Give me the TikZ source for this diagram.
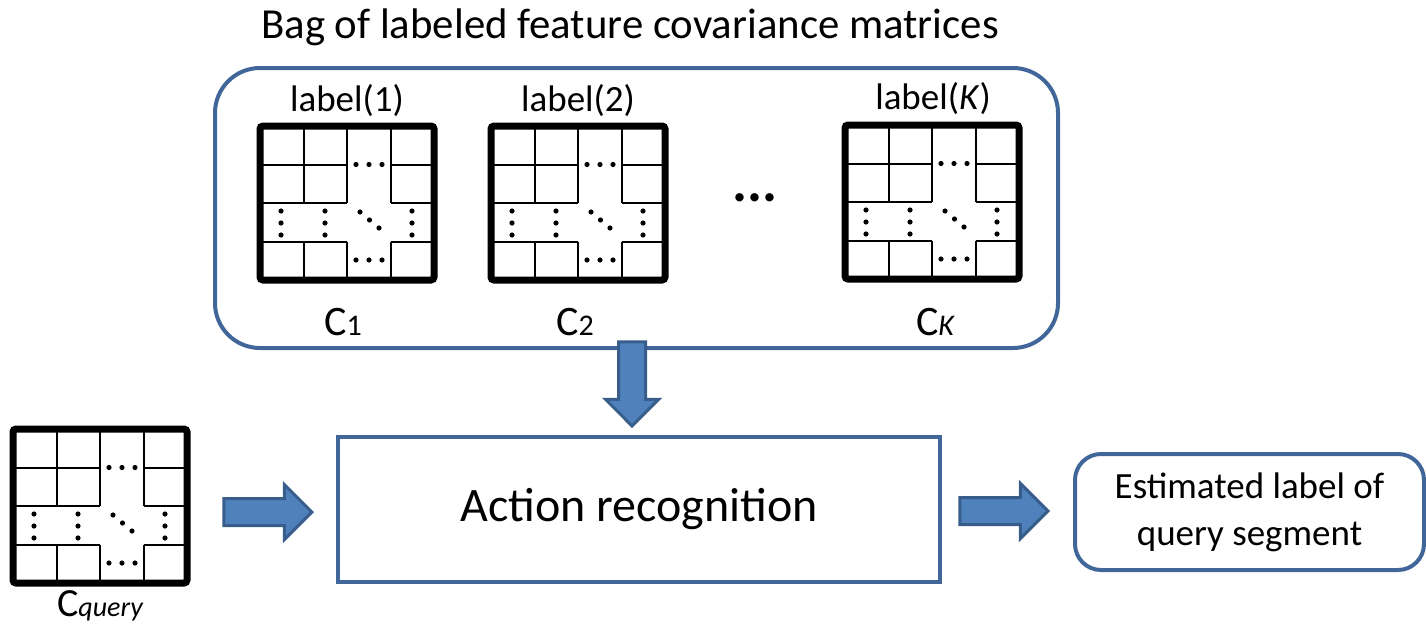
\documentclass[tikz,border=0pt]{standalone}
\usepackage{fontspec}
\setmainfont{Carlito}
\usepackage{xcolor}
\usepackage{tikz}
\usetikzlibrary{calc,shapes.arrows,positioning}

\definecolor{boxblue}{HTML}{41679A}
\definecolor{arrfill}{HTML}{4F81BD}
\definecolor{arrdraw}{HTML}{385D8A}

\tikzset{
  bluebox/.style={draw=boxblue, line width=2pt, inner sep=0pt},
  blockarr/.style={single arrow, fill=arrfill, draw=arrdraw, line width=1.5pt,
    inner xsep=0pt, inner ysep=6pt, single arrow tip angle=90},
  mdot/.style={fill=black}
}

% covariance matrix icon, #1 = name, #2 = top left corner
\newcommand{\covmat}[2]{
  \begin{scope}[shift={#2}]
    \draw[line width=1pt] (43.5,0) -- (43.5,77) (43.5,115.5) -- (43.5,154);
    \draw[line width=1pt] (87,0) -- (87,77) (87,115.5) -- (87,154);
    \draw[line width=1pt] (130.5,0) -- (130.5,77) (130.5,115.5) -- (130.5,154);
    \foreach \yy in {38.5,77,115.5}{
      \draw[line width=1pt] (0,\yy) -- (87,\yy) (130.5,\yy) -- (174,\yy);
    }
    \foreach \xx in {96,109,122}{
      \fill[mdot] (\xx,38.5) circle (1.3pt);
      \fill[mdot] (\xx,134) circle (1.3pt);
    }
    \foreach \xx in {21,65,152}{
      \foreach \yy in {85,97,109}{
        \fill[mdot] (\xx,\yy) circle (1.3pt);
      }
    }
    \fill[mdot] (100,86) circle (1.3pt);
    \fill[mdot] (109.5,94) circle (1.3pt);
    \fill[mdot] (119,102) circle (1.3pt);
    \draw[line width=3.5pt, rounded corners=1.5pt] (0,0) rectangle (174,154);
    \coordinate (#1) at (87,77);
  \end{scope}
}

\begin{document}
\begin{tikzpicture}[x=0.5pt, y=-0.5pt]
\path[use as bounding box] (0,0) rectangle (1426,627);

\node (title) at (630,27) {\fontsize{21.4}{25}\selectfont Bag of labeled feature covariance matrices};

\node[bluebox, rounded corners=22.5pt, minimum width=421.5pt, minimum height=140pt] (bag) at (636.5,208) {};

\covmat{m1}{(260,126)}
\covmat{m2}{(491,126)}
\covmat{mk}{(845,125)}
\covmat{mq}{(13,429)}

\node (lab1) at (347,101) {\fontsize{18.5}{21}\selectfont label(1)};
\node (lab2) at (578,101) {\fontsize{18.5}{21}\selectfont label(2)};
\node (labk) at (933,99) {\fontsize{18.5}{21}\selectfont label(\textit{K})};

\node (c1) at (343,322) {\fontsize{21}{24}\selectfont C{\fontsize{15}{17}\selectfont 1}};
\node (c2) at (575,322) {\fontsize{21}{24}\selectfont C{\fontsize{15}{17}\selectfont 2}};
\node (ck) at (935,322) {\fontsize{21}{24}\selectfont C{\fontsize{15}{17}\selectfont\itshape K}};
\node (cq) at (100,606) {\fontsize{20}{22}\selectfont C{\fontsize{14}{16}\selectfont\itshape query}};

\node (dots) at (755,198) {\fontsize{28}{30}\selectfont\textbf{...}};

\node[bluebox, minimum width=301pt, minimum height=72.5pt] (act) at (639,509.5) {\fontsize{24}{28}\selectfont Action recognition};

\node[bluebox, rounded corners=13pt, minimum width=174.5pt, minimum height=58pt, align=center,
  font=\fontsize{18.5}{23.5}\selectfont] (est) at (1249.5,512) {Estimated label of\\query segment};

\node[blockarr, minimum height=42pt, single arrow head extend=6.5pt, rotate=-90, anchor=tip] (adown) at (632,428) {};
\node[blockarr, minimum height=44pt, single arrow head extend=7pt, anchor=tip] (ain) at (314,512) {};
\node[blockarr, minimum height=44pt, single arrow head extend=7pt, anchor=tip] (aout) at (1050,511) {};

\end{tikzpicture}
\end{document}
